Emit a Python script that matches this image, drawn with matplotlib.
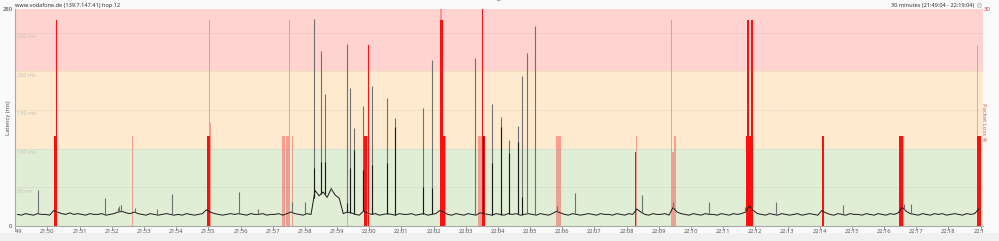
import numpy as np
import matplotlib.pyplot as plt
from matplotlib.transforms import Bbox, TransformedBbox
from matplotlib.lines import Line2D
from matplotlib.patches import Rectangle

plt.rcParams['font.family'] = ['Noto Sans', 'DejaVu Sans']

# latency baseline (ms), one sample every 7.5 s starting 21:49:04
base_ms = [
    15, 14, 16, 15, 14, 16, 15, 15, 14, 20, 18, 16, 15, 17, 15, 16, 15, 14, 16, 15,
    15, 16, 14, 15, 16, 18, 19, 17, 16, 18, 16, 15, 14, 16, 15, 14, 15, 16, 15, 14,
    15, 14, 16, 15, 14, 15, 16, 21, 18, 16, 15, 14, 15, 16, 15, 16, 15, 14, 16, 15,
    15, 16, 14, 15, 15, 16, 14, 16, 18, 16, 15, 14, 16, 15, 46, 39, 44, 37, 48, 40,
    36, 16, 18, 17, 15, 14, 19, 17, 15, 16, 14, 15, 16, 15, 14, 16, 15, 15, 16, 14,
    15, 16, 14, 15, 16, 20, 18, 15, 14, 16, 15, 14, 16, 15, 14, 17, 16, 15, 14, 16,
    15, 14, 16, 15, 16, 14, 15, 16, 15, 14, 16, 15, 14, 16, 19, 17, 15, 14, 16, 15,
    14, 15, 16, 15, 14, 16, 15, 15, 14, 16, 15, 14, 16, 15, 22, 18, 15, 14, 16, 15,
    15, 16, 14, 24, 18, 16, 15, 14, 16, 15, 14, 16, 15, 15, 14, 16, 15, 14, 16, 15,
    16, 18, 26, 20, 16, 15, 14, 16, 15, 14, 16, 15, 14, 15, 16, 14, 15, 16, 15, 14,
    20, 17, 15, 14, 16, 15, 14, 16, 15, 15, 14, 16, 15, 14, 16, 15, 14, 16, 15, 17,
    24, 19, 16, 15, 14, 16, 15, 14, 16, 15, 16, 14, 15, 16, 15, 14, 16, 15, 16, 22,
]
sample_step = 7.5

# latency spikes: seconds after 21:49:04, peak ms, darker lower part ms (0 = none)
spike_sec = [38.5, 163.7, 186.8, 189.8, 192.9, 219.5, 260.5, 288.4, 413.8, 447.8,
             511.1, 537.1, 552.6, 566.9, 573.0, 585.5, 614.0, 620.3, 628.3, 645.0,
             660.5, 688.4, 704.0, 755.7, 772.5, 854.0, 868.3, 885.0, 901.0, 916.6,
             933.4, 940.3, 950.2, 965.6, 1006.5, 1039.4, 1164.7, 1223.0, 1289.3, 1356.3,
             1414.0, 1539.3, 1653.4, 1666.4]
spike_peak = [46, 36, 23, 26, 27, 23, 22, 41, 44, 22,
              31, 31, 267, 226, 171, 51, 235, 178, 126, 155,
              181, 165, 139, 152, 215, 217, 116, 158, 141, 111,
              129, 194, 224, 258, 26, 43, 40, 31, 31, 25,
              31, 27, 28, 29]
spike_low = [0, 0, 0, 0, 0, 0, 0, 0, 0, 0,
             0, 0, 75, 83, 83, 0, 30, 75, 98, 72,
             79, 81, 128, 51, 49, 0, 116, 82, 128, 94,
             109, 38, 0, 0, 0, 0, 0, 0, 0, 0,
             0, 0, 0, 0]

# packet loss (%), strong and faint bars
loss_hi_sec = [70, 72.5, 355, 357.5, 647.5, 650, 655, 790, 792.5, 795, 867.5, 870,
               1152.5, 1360, 1362.5, 1365, 1367.5, 1370, 1502.5, 1645, 1647.5, 1650,
               1790, 1792.5, 1795]
loss_hi_pct = [12.5, 28.5, 12.5, 12.5, 12.5, 12.5, 25, 28.5, 28.5, 12.5, 31, 12.5,
               10.3, 12.5, 28.5, 12.5, 12.5, 28.5, 12.5, 12.5, 12.5, 12.5,
               12.5, 12.5, 12.5]
loss_lo_sec = [215, 357.5, 360, 495, 497.5, 502.5, 505, 507.5, 512.5, 615,
               652.5, 790, 797.5, 860, 862.5, 865, 1005, 1007.5, 1010, 1012.5,
               1155, 1220, 1222.5, 1225, 1227.5, 1652.5, 1790]
loss_lo_pct = [12.5, 28.5, 14.3, 12.5, 12.5, 12.5, 12.5, 28.5, 12.5, 3,
               12.5, 31, 12.5, 12.5, 12.5, 12.5, 12.5, 12.5, 12.5, 12.5,
               12.5, 28.5, 10.3, 12.5, 12.5, 12.5, 25]

minute_labels = ['21:49', '21:50', '21:51', '21:52', '21:53', '21:54', '21:55', '21:56',
                 '21:57', '21:58', '21:59', '22:00', '22:01', '22:02', '22:03', '22:04',
                 '22:05', '22:06', '22:07', '22:08', '22:09', '22:10', '22:11', '22:12',
                 '22:13', '22:14', '22:15', '22:16', '22:17', '22:18', '22:19']
first_tick = -4  # 21:49:00 relative to 21:49:04

zones = [(0, 100, '#e0eed6'), (100, 200, '#feeace'), (200, 280, '#ffd3d0')]
ms_labels = [50, 100, 150, 200, 250]

fig = plt.figure(figsize=(9.99, 2.41), dpi=100, facecolor='#fafafa')
fig.add_artist(Rectangle((0, 0), 1, 8 / 241, transform=fig.transFigure,
                         facecolor='#f0f0f0', edgecolor='none', zorder=-5))
ax = fig.add_axes([0.01532, 0.0622, 0.96837, 0.8992])
ax.set_xlim(0, 1800)
ax.set_ylim(0, 280)

for lo, hi, c in zones:
    ax.axhspan(lo, hi, color=c, lw=0)
for v in ms_labels:
    ax.axhline(v, color='k', alpha=0.06, lw=0.6)
    ax.text(0.002, v - 2, f'{v} ms', transform=ax.get_yaxis_transform(),
            fontsize=4.0, color='#c8c0b8', ha='left', va='top')

for s in ['top', 'right']:
    ax.spines[s].set_visible(False)
for s in ['left', 'bottom']:
    ax.spines[s].set_color('#a8a8a8')
    ax.spines[s].set_linewidth(0.8)

ticks = [first_tick + 60 * k for k in range(len(minute_labels))]
ax.set_xticks(ticks)
ax.set_xticklabels([])
ax.tick_params(axis='x', length=3, width=0.6, color='#909090')
ax.set_yticks([0, 280])
ax.set_yticklabels(['0', '280'], fontsize=4.3, color='#404040')
ax.tick_params(axis='y', length=0, pad=2)
for lbl in ax.get_yticklabels():
    lbl.set_verticalalignment('center')

clip = TransformedBbox(Bbox([[0, -1], [1, 2]]), ax.transAxes)
for t, lab in zip(ticks, minute_labels):
    txt = ax.text(t, -0.012, lab, transform=ax.get_xaxis_transform(), ha='center',
                  va='top', fontsize=4.1, color='#505050', clip_on=True)
    txt.set_clip_box(clip)

ax.set_ylabel('Latency (ms)', fontsize=4.2, color='#505050')
ax.yaxis.set_label_coords(-0.0046, 0.5)

# packet loss axis
ax2 = ax.twinx()
ax2.set_ylim(0, 30)
ax2.bar(loss_lo_sec, loss_lo_pct, width=2.4, color='#ff4040', alpha=0.45, lw=0)
ax2.bar(loss_hi_sec, loss_hi_pct, width=2.9, color='#ff1010', lw=0)
ax2.set_yticks([30])
ax2.set_yticklabels(['30'], fontsize=4.3, color='#d04040')
ax2.tick_params(axis='y', length=0, pad=1)
for s in ax2.spines.values():
    s.set_visible(False)
ax2.set_ylabel('Packet Loss %', fontsize=4.2, color='#d05a5a', rotation=-90)
ax2.yaxis.set_label_coords(1.0036, 0.48)

# latency axis on top
ax3 = ax.twinx()
ax3.set_ylim(0, 280)
ax3.axis('off')
t_base = np.arange(len(base_ms)) * sample_step
ax3.plot(t_base, base_ms, color='#1a1a1a', lw=0.7)
bottoms = np.interp(spike_sec, t_base, base_ms)
ax3.vlines(spike_sec, bottoms, spike_peak, color='#707070', lw=0.8)
low_sec = [s for s, l in zip(spike_sec, spike_low) if l > 0]
low_val = [l for l in spike_low if l > 0]
ax3.vlines(low_sec, np.interp(low_sec, t_base, base_ms), low_val, color='#1a1a1a', lw=0.8)

fig.text(15 / 999, 1 - 5 / 241, 'www.vodafone.de (139.7.147.41) hop 12', fontsize=4.0,
         color='#303030', ha='left', va='center')
fig.text(974 / 999, 1 - 5 / 241, '30 minutes (21:49:04 - 22:19:04)', fontsize=4.0,
         color='#303030', ha='right', va='center')
fig.add_artist(Line2D([979 / 999], [1 - 5 / 241], marker='o', ms=3.0, mfc='#e6e6e6',
                      mec='#b0b0b0', mew=0.5, transform=fig.transFigure))
fig.text(0.5, 1 - 1.5 / 241, '•••', fontsize=3, color='#606060', ha='center', va='center')

fig.savefig('out.png', dpi=100, facecolor=fig.get_facecolor())
